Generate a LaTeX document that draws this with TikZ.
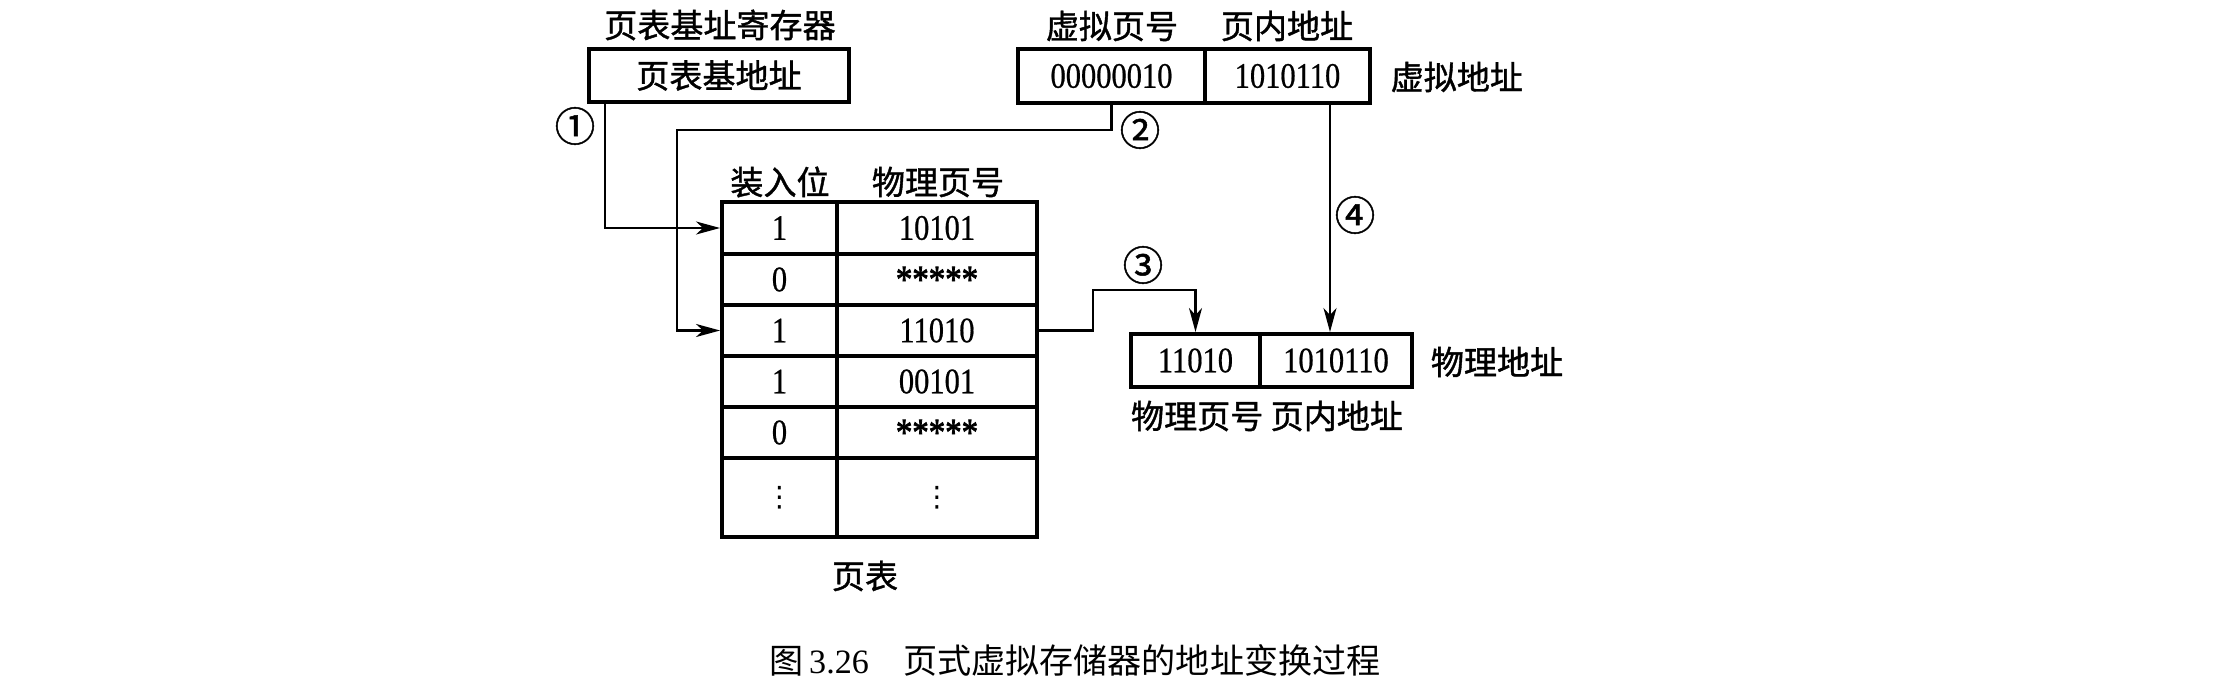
\documentclass[tikz,border=0pt]{standalone}
\usepackage{fontspec}
\setmainfont{Liberation Serif}
\newfontfamily\cjk{Noto Sans CJK SC}
\newfontfamily\cjkb[FakeBold=1.2]{Noto Sans CJK SC}
\newfontfamily\dig[FakeStretch=0.85,FakeBold=0.6]{Liberation Serif}
\newfontfamily\starf[FakeStretch=0.85,FakeBold=2]{Liberation Serif}
\newfontfamily\symf{DejaVu Sans}
\usetikzlibrary{arrows.meta}
\tikzset{
  cellbox/.style={draw, line width=1.1pt, inner sep=0pt, font=\dig\fontsize{10.2pt}{12pt}\selectfont},
  lbl/.style={inner sep=0pt, font=\cjkb\fontsize{9.4pt}{11pt}\selectfont},
  circnum/.style={inner sep=0pt, font=\cjkb\fontsize{11.5pt}{13pt}\selectfont},
  conn/.style={line width=0.6pt},
  arr/.style={conn, -{Stealth[length=0.24cm,width=0.13cm,inset=0.07cm]}},
}
\newcommand{\stars}{{\starf\fontsize{11pt}{12pt}\selectfont\raisebox{-0.3em}{*****}}}
\begin{document}
\begin{tikzpicture}[x=0.01cm,y=-0.01cm]
\useasboundingbox (0,0) rectangle (2229,691);
% base register
\node[cellbox, minimum width=2.6cm, minimum height=0.53cm, font=\cjkb\fontsize{9.4pt}{11pt}\selectfont] (base) at (719,75.5) {页表基地址};
\node[lbl] (basettl) at (720,25) {页表基址寄存器};
% virtual address
\node[cellbox, minimum width=1.87cm, minimum height=0.54cm] (vpn) at (1111.5,76) {00000010};
\node[cellbox, minimum width=1.65cm, minimum height=0.54cm] (voff) at (1287.5,76) {1010110};
\node[lbl] (vpnttl) at (1112,26) {虚拟页号};
\node[lbl] (voffttl) at (1287,26) {页内地址};
\node[lbl, anchor=west] (vaddr) at (1390,77) {虚拟地址};
% page table
\node[lbl] (colA) at (780,182) {装入位};
\node[lbl] (colB) at (938,182) {物理页号};
\node[cellbox, minimum width=1.15cm, minimum height=0.52cm] (t1a) at (779.5,228) {1};
\node[cellbox, minimum width=2.0cm, minimum height=0.52cm] (t1b) at (937,228) {10101};
\node[cellbox, minimum width=1.15cm, minimum height=0.51cm] (t2a) at (779.5,279.5) {0};
\node[cellbox, minimum width=2.0cm, minimum height=0.51cm] (t2b) at (937,279.5) {\stars};
\node[cellbox, minimum width=1.15cm, minimum height=0.51cm] (t3a) at (779.5,330.5) {1};
\node[cellbox, minimum width=2.0cm, minimum height=0.51cm] (t3b) at (937,330.5) {11010};
\node[cellbox, minimum width=1.15cm, minimum height=0.51cm] (t4a) at (779.5,381.5) {1};
\node[cellbox, minimum width=2.0cm, minimum height=0.51cm] (t4b) at (937,381.5) {00101};
\node[cellbox, minimum width=1.15cm, minimum height=0.51cm] (t5a) at (779.5,432.5) {0};
\node[cellbox, minimum width=2.0cm, minimum height=0.51cm] (t5b) at (937,432.5) {\stars};
\node[cellbox, minimum width=1.15cm, minimum height=0.79cm, font=\symf\fontsize{8pt}{10pt}\selectfont] (t6a) at (779.5,497.5) {⋮};
\node[cellbox, minimum width=2.0cm, minimum height=0.79cm, font=\symf\fontsize{8pt}{10pt}\selectfont] (t6b) at (937,497.5) {⋮};
\node[lbl] (pt) at (865,576) {页表};
% physical address
\node[cellbox, minimum width=1.29cm, minimum height=0.53cm] (ppn) at (1195.5,360.5) {11010};
\node[cellbox, minimum width=1.52cm, minimum height=0.53cm] (poff) at (1336,360.5) {1010110};
\node[lbl] (paddr) at (1497,362) {物理地址};
\node[lbl] (pparts) at (1267,416) {物理页号 页内地址};
% step numbers
\node[circnum] (s1) at (575,126) {①};
\node[circnum] (s2) at (1140,130) {②};
\node[circnum] (s3) at (1143,265) {③};
\node[circnum] (s4) at (1355,215) {④};
% connectors
\coordinate (p1) at (605,0);
\coordinate (p2) at (677,130);
\coordinate (p3) at (1093,290);
\coordinate (p4) at (1330,0);
\draw[arr] (base.south -| p1) |- (t1a.west);
\draw[arr] (vpn.south) |- (p2) |- (t3a.west);
\draw[arr] (t3b.east) -| (p3) -| (ppn.north);
\draw[arr] (voff.south -| p4) -- (poff.north -| p4);
% caption
\node[inner sep=0pt, font=\fontsize{9.7pt}{11pt}\selectfont] (cap) at (1075,660) {{\cjk 图}\,3.26\quad{\cjk 页式虚拟存储器的地址变换过程}};
\end{tikzpicture}
\end{document}
